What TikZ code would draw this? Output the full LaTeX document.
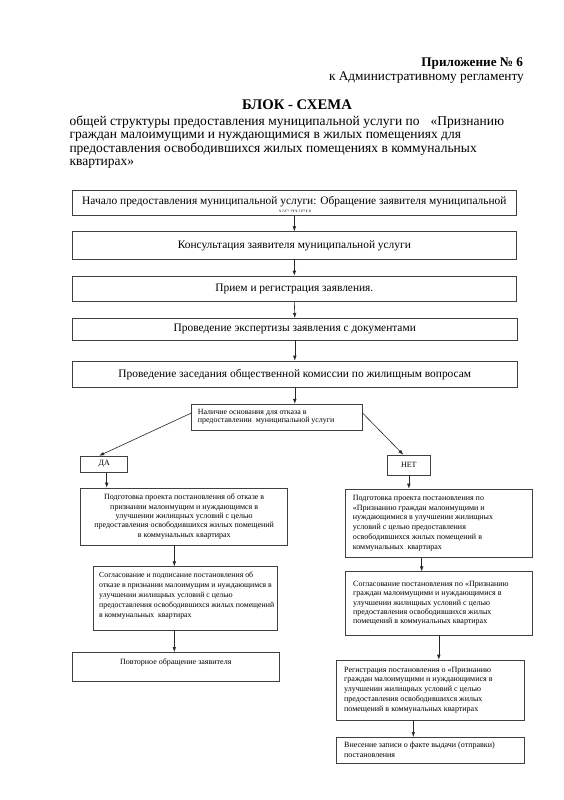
\documentclass[tikz,border=0pt]{standalone}
\usepackage{fontspec}
\setmainfont{Liberation Serif}
\usetikzlibrary{arrows.meta,calc}
\begin{document}
\begin{tikzpicture}[x=1pt,y=-1pt,
  box/.style={draw=black!75,line width=0.6pt,inner sep=0pt,minimum width=#1},
  bigtxt/.style={font=\fontsize{11.4}{13}\selectfont},
  smalltxt/.style={font=\fontsize{8}{9.7}\selectfont},
  ltxt/.style={inner sep=0pt,align=left,anchor=west,font=\fontsize{8}{9.7}\selectfont},
  head/.style={inner sep=0pt,font=\fontsize{13.5}{15}\selectfont},
  arr/.style={-{Latex[length=5pt,width=3.6pt]},line width=0.6pt,draw=black!85},
  lnk/.style={-{Latex[length=5pt,width=3.6pt]},line width=0.6pt,draw=black!85}]
\useasboundingbox (0,0) rectangle (564,800);
\fill[white] (0,0) rectangle (564,800);
% header
\node[head,anchor=base east,font=\bfseries\fontsize{13.2}{14}\selectfont] (h1) at (523.3,66.5) {Приложение № 6};
\node[head,anchor=base east,font=\fontsize{13.3}{14}\selectfont] (h2) at (524,80.3) {к Административному регламенту};
\node[head,anchor=base,font=\bfseries\fontsize{14.7}{15}\selectfont] (h3) at (297,109.5) {БЛОК - СХЕМА};
\node[head,anchor=base west] (t1) at (69.3,125.5) {общей структуры предоставления муниципальной услуги по\hspace{11pt}«Признанию};
\node[head,anchor=base west] (t2) at (69.3,138.8) {граждан малоимущими и нуждающимися в жилых помещениях для};
\node[head,anchor=base west] (t3) at (69.3,152.1) {предоставления освободившихся жилых помещениях в коммунальных};
\node[head,anchor=base west] (t4) at (69.3,165.4) {квартирах»};
% main column
\node[box=443.3pt,bigtxt,text height=14.8pt,text depth=10.9pt] (b1) at (294.35,202.9)
  {Начало предоставления муниципальной услуги: Обращение заявителя муниципальной};
\begin{scope}
  \clip (270,209.3) rectangle (320,211.2);
  \node[bigtxt,anchor=base,inner sep=0pt,text=black!60] (b1rest) at (295,215.2) {услуги};
\end{scope}
\node[box=443.3pt,bigtxt,minimum height=27.3pt] (b2) at (294.35,245.35) {Консультация заявителя муниципальной услуги};
\node[box=443.3pt,bigtxt,minimum height=25.7pt] (b3) at (294.35,288.85) {Прием и регистрация заявления.};
\node[box=445pt,bigtxt,minimum height=21.7pt] (b4) at (294.8,329.15) {Проведение экспертизы заявления с документами};
\node[box=445pt,bigtxt,minimum height=26.3pt] (b5) at (294.8,374.15) {Проведение заседания общественной комиссии по жилищным вопросам};
\draw[arr] (b1.south) -- (b2.north);
\draw[arr] (b2.south) -- (b3.north);
\draw[arr] (b3.south) -- (b4.north);
\draw[arr] (b4.south) -- (b5.north);
% decision
\node[box=170.8pt,minimum height=25.8pt] (dec) at (276.9,417.1) {};
\node[ltxt,font=\fontsize{7.9}{8.6}\selectfont] (dect) at ([xshift=6.5pt,yshift=0.3pt]dec.west)
  {Наличие основания для отказа в\\предоставлении\ \ муниципальной услуги};
\draw[arr] (b5.south) -- (b5.south |- dec.north);
\node[box=47pt,smalltxt,minimum height=16.3pt] (da) at (104.2,464.15) {ДА};
\node[box=42.3pt,smalltxt,minimum height=20pt] (net) at (408.85,465) {НЕТ};
\draw[lnk] ([yshift=4pt]dec.west) -- ([xshift=-5pt]da.north);
\draw[lnk] ([yshift=4pt]dec.east) -- ([xshift=-5.5pt]net.north);
% left branch
\node[box=207pt,minimum height=57pt,smalltxt,align=center,font=\fontsize{8}{9.4}\selectfont] (da1) at (184.2,516.5)
  {Подготовка проекта постановления об отказе в\\признании малоимущим и нуждающимся в\\улучшении жилищных условий с целью\\предоставления освободившихся жилых помещений\\в коммунальных квартирах};
\draw[arr] ([xshift=2.5pt]da.south) -- ([xshift=2.5pt]da.south |- da1.north);
\node[box=184.4pt,minimum height=63.3pt] (da2) at (185.5,598.35) {};
\node[ltxt,font=\fontsize{7.8}{10}\selectfont] (da2t) at ([xshift=6pt,yshift=3.2pt]da2.west)
  {Согласование и подписание постановления об\\отказе в признании малоимущим и нуждающимся в\\улучшении жилищных условий с целью\\предоставления освободившихся жилых помещений\\в коммунальных\ \ квартирах};
\coordinate (dax) at (174.3,0);
\draw[arr] (da1.south -| dax) -- (da2.north -| dax);
\node[box=207pt,smalltxt,text height=12pt,text depth=17.4pt] (da3) at (175.8,667) {Повторное обращение заявителя};
\draw[arr] (da2.south -| dax) -- (da3.north -| dax);
% right branch
\node[box=186.6pt,minimum height=68.3pt] (n1) at (439,523.15) {};
\node[ltxt,font=\fontsize{8}{9.9}\selectfont] (n1t) at ([xshift=7.3pt]n1.west)
  {Подготовка проекта постановления по\\«Признанию граждан малоимущими и\\нуждающимися в улучшении жилищных\\условий с целью предоставления\\освободившихся жилых помещений в\\коммунальных\ \ квартирах};
\draw[arr] (net.south) -- (net.south |- n1.north);
\node[box=186.6pt,minimum height=63.3pt] (n2) at (439,603.35) {};
\node[ltxt,font=\fontsize{8}{9.35}\selectfont] (n2t) at ([xshift=7.6pt]n2.west)
  {Согласование постановления по «Признанию\\граждан малоимущими и нуждающимися в\\улучшении жилищных условий с целью\\предоставления освободившихся жилых\\помещений в коммунальных квартирах};
\coordinate (nx1) at (421.7,0);
\draw[arr] (n1.south -| nx1) -- (n2.north -| nx1);
\node[box=188.3pt,minimum height=60pt] (n3) at (430.15,690) {};
\node[ltxt,font=\fontsize{8}{9.8}\selectfont] (n3t) at ([xshift=8.3pt]n3.west)
  {Регистрация постановления о «Признанию\\граждан малоимущими и нуждающимися в\\улучшении жилищных условий с целью\\предоставления освободившихся жилых\\помещений в коммунальных квартирах};
\coordinate (nx2) at (438.8,0);
\draw[arr] (n2.south -| nx2) -- (n3.north -| nx2);
\node[box=188.3pt,minimum height=26pt] (n4) at (430.15,750.3) {};
\node[ltxt,font=\fontsize{8}{9.4}\selectfont] (n4t) at ([xshift=8.3pt,yshift=0.4pt]n4.west)
  {Внесение записи о факте выдачи (отправки)\\постановления};
\coordinate (nx3) at (413.3,0);
\draw[arr] (n3.south -| nx3) -- (n4.north -| nx3);
\end{tikzpicture}
\end{document}
